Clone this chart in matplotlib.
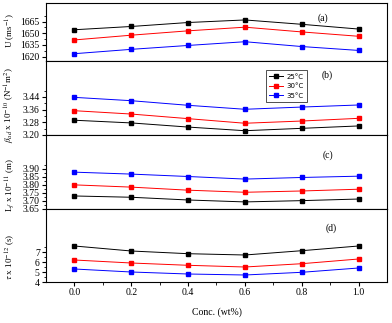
import matplotlib

matplotlib.use("Agg")
import matplotlib.pyplot as plt
from matplotlib.ticker import FixedLocator

conc = [0.0, 0.2, 0.4, 0.6, 0.8, 1.0]
temps = ["25°C", "30°C", "35°C"]
colors = ["black", "red", "blue"]

# ultrasonic velocity U (m/s)
u_25 = [1654.6, 1658.8, 1663.9, 1667.2, 1661.6, 1655.5]
u_30 = [1641.5, 1647.6, 1653.2, 1657.9, 1651.8, 1646.2]
u_35 = [1623.8, 1629.4, 1634.4, 1639.2, 1633.0, 1628.0]

# adiabatic compressibility x 1e-10
beta_25 = [3.293, 3.276, 3.250, 3.227, 3.242, 3.257]
beta_30 = [3.353, 3.332, 3.303, 3.274, 3.288, 3.305]
beta_35 = [3.437, 3.416, 3.387, 3.362, 3.376, 3.389]

# free length x 1e-11
lf_25 = [3.731, 3.723, 3.706, 3.694, 3.702, 3.712]
lf_30 = [3.800, 3.786, 3.767, 3.754, 3.762, 3.773]
lf_35 = [3.879, 3.867, 3.852, 3.836, 3.846, 3.854]

# relaxation time x 1e-12
tau_25 = [7.6, 7.1, 6.83, 6.7, 7.13, 7.6]
tau_30 = [6.2, 5.9, 5.67, 5.5, 5.83, 6.3]
tau_35 = [5.3, 5.0, 4.8, 4.7, 4.97, 5.4]

panels = [
    ([u_25, u_30, u_35], r"U (ms$^{-1}$)", "(a)",
     [1620, 1635, 1650, 1665], (1614.4, 1689)),
    ([beta_25, beta_30, beta_35], r"$\beta_{ad}$ x 10$^{-10}$ (N$^{-1}$m$^{2}$)", "(b)",
     [3.20, 3.28, 3.36, 3.44], (3.20, 3.666)),
    ([lf_25, lf_30, lf_35], r"L$_{f}$ x 10$^{-11}$ (m)", "(c)",
     [3.65, 3.70, 3.75, 3.80, 3.85, 3.90], (3.65, 4.11)),
    ([tau_25, tau_30, tau_35], r"$\tau$ x 10$^{-12}$ (s)", "(d)",
     [4, 5, 6, 7], (4.0, 11.3)),
]

plt.rcParams["font.family"] = ["Liberation Serif", "DejaVu Serif"]
plt.rcParams["mathtext.fontset"] = "stix"

W, H = 392, 323
fig = plt.figure(figsize=(W / 100, H / 100), dpi=100)

left, right = 46 / W, 387 / W
edges = [3, 61, 135, 209, 282]
label_y = [0.53, 0.40, 0.32, 0.34]
tag_pos = [(0.812, 0.74), (0.824, 0.81), (0.827, 0.73), (0.836, 0.74)]

axes = []
for i, (series, ylabel, tag, yticks, ylim) in enumerate(panels):
    top, bot = edges[i], edges[i + 1]
    ax = fig.add_axes([left, 1 - bot / H, right - left, (bot - top) / H])
    for vals, c, lab in zip(series, colors, temps):
        ax.plot(conc, vals, color=c, lw=0.7, marker="s", ms=2.8, label=lab)
    ax.set_xlim(-0.1, 1.1)
    ax.set_ylim(*ylim)
    ax.set_yticks(yticks)
    step = yticks[1] - yticks[0]
    minors = [y + step / 2 for y in yticks]
    ax.yaxis.set_minor_locator(FixedLocator(minors))
    ax.set_xticks(conc)
    ax.xaxis.set_minor_locator(FixedLocator([0.1, 0.3, 0.5, 0.7, 0.9]))
    ax.tick_params(which="major", length=3, width=0.8, labelsize=7, pad=1.5)
    ax.tick_params(which="minor", length=1.8, width=0.6)
    if i < 3:
        ax.tick_params(axis="x", labelbottom=False)
    ax.set_ylabel(ylabel, fontsize=6.5)
    ax.yaxis.set_label_coords(-0.085, label_y[i])
    ax.text(*tag_pos[i], tag, transform=ax.transAxes, fontsize=7,
            ha="center", va="center")
    for sp in ax.spines.values():
        sp.set_linewidth(0.8)
    axes.append(ax)

axes[1].legend(loc="upper left", bbox_to_anchor=(0.635, 0.92),
               prop={"family": "DejaVu Sans", "size": 5}, frameon=True,
               fancybox=False, edgecolor="black", handlelength=2.0,
               borderpad=0.5, labelspacing=0.5, handletextpad=0.4)
axes[1].get_legend().get_frame().set_linewidth(0.6)

axes[3].set_xlabel("Conc. (wt%)", fontsize=7, labelpad=7)

fig.savefig("out.png", dpi=100)
